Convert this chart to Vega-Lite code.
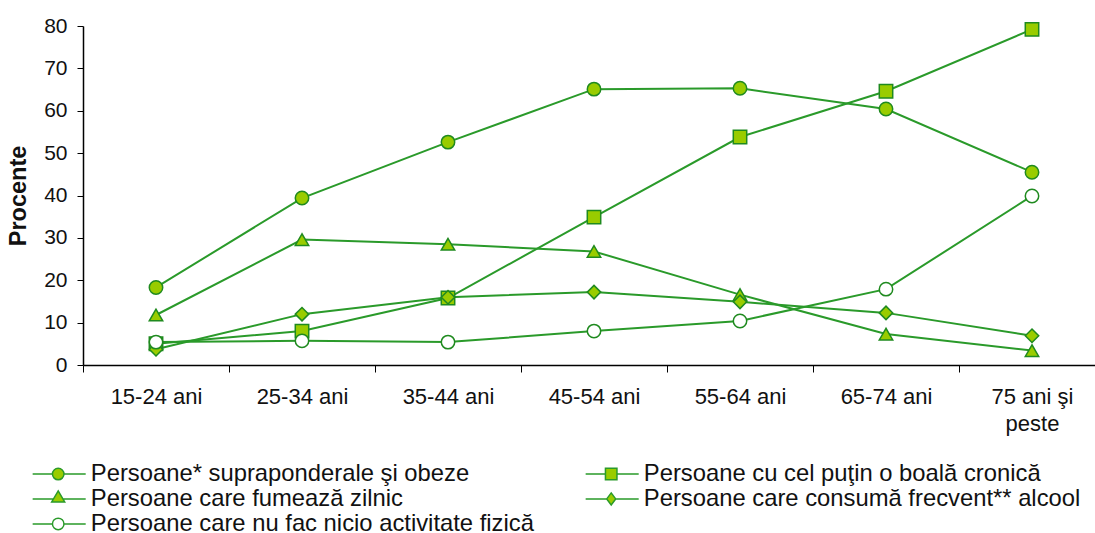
{
  "$schema": "https://vega.github.io/schema/vega-lite/v6.json",
  "width": 1012,
  "height": 339,
  "autosize": "none",
  "padding": {"left": 83, "top": 26, "right": 0, "bottom": 168},
  "background": "white",
  "config": {"view": {"stroke": null}, "font": "Liberation Sans"},
  "data": {
    "values": [
      {"age": "15-24 ani", "series": "Persoane* supraponderale şi obeze", "value": 18.3},
      {"age": "25-34 ani", "series": "Persoane* supraponderale şi obeze", "value": 39.4},
      {"age": "35-44 ani", "series": "Persoane* supraponderale şi obeze", "value": 52.6},
      {"age": "45-54 ani", "series": "Persoane* supraponderale şi obeze", "value": 65.1},
      {"age": "55-64 ani", "series": "Persoane* supraponderale şi obeze", "value": 65.3},
      {"age": "65-74 ani", "series": "Persoane* supraponderale şi obeze", "value": 60.4},
      {"age": "75 ani şi peste", "series": "Persoane* supraponderale şi obeze", "value": 45.5},
      {"age": "15-24 ani", "series": "Persoane cu cel puţin o boală cronică", "value": 5.0},
      {"age": "25-34 ani", "series": "Persoane cu cel puţin o boală cronică", "value": 8.0},
      {"age": "35-44 ani", "series": "Persoane cu cel puţin o boală cronică", "value": 15.8},
      {"age": "45-54 ani", "series": "Persoane cu cel puţin o boală cronică", "value": 34.9},
      {"age": "55-64 ani", "series": "Persoane cu cel puţin o boală cronică", "value": 53.8},
      {"age": "65-74 ani", "series": "Persoane cu cel puţin o boală cronică", "value": 64.6},
      {"age": "75 ani şi peste", "series": "Persoane cu cel puţin o boală cronică", "value": 79.2},
      {"age": "15-24 ani", "series": "Persoane care fumează zilnic", "value": 11.8},
      {"age": "25-34 ani", "series": "Persoane care fumează zilnic", "value": 29.6},
      {"age": "35-44 ani", "series": "Persoane care fumează zilnic", "value": 28.5},
      {"age": "45-54 ani", "series": "Persoane care fumează zilnic", "value": 26.8},
      {"age": "55-64 ani", "series": "Persoane care fumează zilnic", "value": 16.6},
      {"age": "65-74 ani", "series": "Persoane care fumează zilnic", "value": 7.3},
      {"age": "75 ani şi peste", "series": "Persoane care fumează zilnic", "value": 3.4},
      {"age": "15-24 ani", "series": "Persoane care consumă frecvent** alcool", "value": 3.7},
      {"age": "25-34 ani", "series": "Persoane care consumă frecvent** alcool", "value": 12.0},
      {"age": "35-44 ani", "series": "Persoane care consumă frecvent** alcool", "value": 16.0},
      {"age": "45-54 ani", "series": "Persoane care consumă frecvent** alcool", "value": 17.2},
      {"age": "55-64 ani", "series": "Persoane care consumă frecvent** alcool", "value": 14.9},
      {"age": "65-74 ani", "series": "Persoane care consumă frecvent** alcool", "value": 12.3},
      {"age": "75 ani şi peste", "series": "Persoane care consumă frecvent** alcool", "value": 6.9},
      {"age": "15-24 ani", "series": "Persoane care nu fac nicio activitate fizică", "value": 5.4},
      {"age": "25-34 ani", "series": "Persoane care nu fac nicio activitate fizică", "value": 5.7},
      {"age": "35-44 ani", "series": "Persoane care nu fac nicio activitate fizică", "value": 5.4},
      {"age": "45-54 ani", "series": "Persoane care nu fac nicio activitate fizică", "value": 8.0},
      {"age": "55-64 ani", "series": "Persoane care nu fac nicio activitate fizică", "value": 10.4},
      {"age": "65-74 ani", "series": "Persoane care nu fac nicio activitate fizică", "value": 17.9},
      {"age": "75 ani şi peste", "series": "Persoane care nu fac nicio activitate fizică", "value": 39.9}
    ]
  },
  "encoding": {
    "x": {
      "field": "age",
      "type": "nominal",
      "sort": ["15-24 ani", "25-34 ani", "35-44 ani", "45-54 ani", "55-64 ani", "65-74 ani", "75 ani şi peste"],
      "scale": {"type": "band", "paddingInner": 0, "paddingOuter": 0, "range": [0, 1022]},
      "axis": {
        "title": null,
        "tickBand": "extent",
        "labelAngle": 0,
        "labelFontSize": 22,
        "labelColor": "#111111",
        "labelPadding": 14,
        "labelLineHeight": 27,
        "tickSize": 7,
        "tickColor": "#000000",
        "domainColor": "#000000",
        "domainWidth": 1.5,
        "labelExpr": "datum.value == '75 ani şi peste' ? ['75 ani şi', 'peste'] : datum.value"
      }
    },
    "y": {
      "field": "value",
      "type": "quantitative",
      "scale": {"domain": [0, 80], "nice": false, "zero": true},
      "axis": {
        "title": "Procente",
        "titleFontSize": 23.5,
        "titleFontWeight": "bold",
        "titleColor": "#111111",
        "titlePadding": 13,
        "values": [0, 10, 20, 30, 40, 50, 60, 70, 80],
        "grid": false,
        "labelFontSize": 21,
        "labelColor": "#111111",
        "labelPadding": 10,
        "tickSize": 6,
        "tickColor": "#000000",
        "domainColor": "#000000",
        "domainWidth": 1.5
      }
    }
  },
  "resolve": {"scale": {"shape": "independent", "fill": "independent"}},
  "layer": [
    {
      "mark": {"type": "line", "color": "#2a9a2a", "strokeWidth": 2},
      "encoding": {"detail": {"field": "series"}}
    },
    {
      "mark": {"type": "point", "filled": true, "size": 180, "stroke": "#1f8a1f", "strokeWidth": 1.5, "opacity": 1},
      "encoding": {
        "shape": {
          "field": "series",
          "type": "nominal",
          "scale": {
            "domain": ["Persoane* supraponderale şi obeze", "Persoane cu cel puţin o boală cronică", "Persoane care fumează zilnic", "Persoane care consumă frecvent** alcool", "Persoane care nu fac nicio activitate fizică"],
            "range": ["circle", "square", "triangle-up", "diamond", "circle"]
          },
          "legend": null
        },
        "fill": {
          "field": "series",
          "type": "nominal",
          "scale": {
            "domain": ["Persoane* supraponderale şi obeze", "Persoane cu cel puţin o boală cronică", "Persoane care fumează zilnic", "Persoane care consumă frecvent** alcool", "Persoane care nu fac nicio activitate fizică"],
            "range": ["#99cc00", "#99cc00", "#99cc00", "#99cc00", "#ffffff"]
          },
          "legend": null
        }
      }
    },
    {
      "mark": {"type": "point", "filled": true, "size": 1, "stroke": "#2a9a2a", "strokeWidth": 1.5, "opacity": 0},
      "encoding": {
        "shape": {
          "field": "series",
          "type": "nominal",
          "scale": {
            "domain": ["Persoane* supraponderale şi obeze", "Persoane cu cel puţin o boală cronică", "Persoane care fumează zilnic", "Persoane care consumă frecvent** alcool", "Persoane care nu fac nicio activitate fizică"],
            "range": [
              "M-8.45,0H-4.49M-2.19,0H2.16M-4.49,0A1.15,1.15 0 1,1 -2.19,0A1.15,1.15 0 1,1 -4.49,0Z",
              "M-8.45,0H-4.49M-2.19,0H2.16M-4.49,-1.15H-2.19V1.15H-4.49Z",
              "M-8.45,0H-4.29M-2.39,0H2.16M-3.34,-1.6L-2.04,0.6H-4.64Z",
              "M-8.45,0H-4.24M-2.44,0H2.16M-3.34,-1.2L-2.44,0L-3.34,1.2L-4.24,0Z",
              "M-8.45,0H-4.49M-2.19,0H2.16M-4.49,0A1.15,1.15 0 1,1 -2.19,0A1.15,1.15 0 1,1 -4.49,0Z"
            ]
          },
          "legend": {
            "orient": "none",
            "legendX": -20,
            "legendY": 436,
            "columns": 2,
            "direction": "horizontal",
            "title": null,
            "padding": 0,
            "labelFontSize": 23.8,
            "labelColor": "#111111",
            "labelLimit": 700,
            "symbolSize": 100,
            "symbolOpacity": 1,
            "symbolStrokeWidth": 1.5,
            "labelOffset": 4,
            "rowPadding": 0,
            "columnPadding": 48
          }
        },
        "fill": {
          "field": "series",
          "type": "nominal",
          "scale": {
            "domain": ["Persoane* supraponderale şi obeze", "Persoane cu cel puţin o boală cronică", "Persoane care fumează zilnic", "Persoane care consumă frecvent** alcool", "Persoane care nu fac nicio activitate fizică"],
            "range": ["#99cc00", "#99cc00", "#99cc00", "#99cc00", "#ffffff"]
          },
          "legend": {
            "orient": "none",
            "legendX": -20,
            "legendY": 436,
            "columns": 2,
            "direction": "horizontal",
            "title": null,
            "padding": 0,
            "labelFontSize": 23.8,
            "labelColor": "#111111",
            "labelLimit": 700,
            "symbolSize": 100,
            "symbolOpacity": 1,
            "symbolStrokeWidth": 1.5,
            "labelOffset": 4,
            "rowPadding": 0,
            "columnPadding": 48
          }
        }
      }
    }
  ]
}
